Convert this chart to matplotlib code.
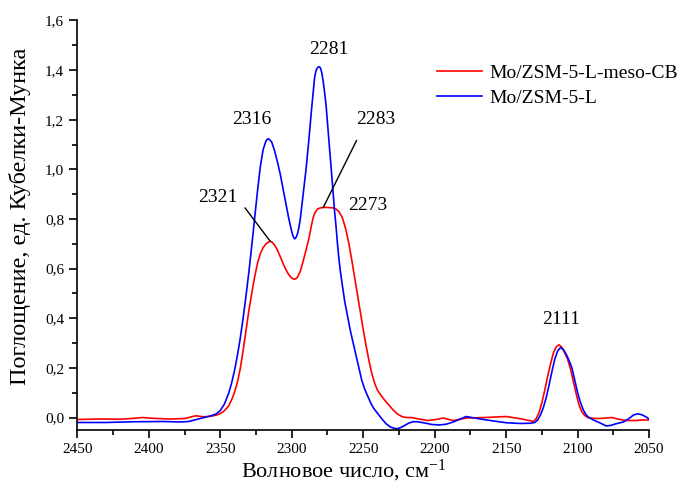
import matplotlib
matplotlib.use("Agg")
import matplotlib.pyplot as plt
from matplotlib.ticker import MultipleLocator, FuncFormatter

plt.rcParams['font.family'] = ['Liberation Serif', 'DejaVu Serif']
plt.rcParams['mathtext.fontset'] = 'custom'
plt.rcParams['mathtext.rm'] = 'Liberation Serif'
plt.rcParams['mathtext.it'] = 'Liberation Serif:italic'

# Mo/ZSM-5-L-meso-CB
w_red = [2450, 2435, 2420, 2410, 2404, 2398, 2385, 2375, 2370, 2367, 2362, 2358,
         2354, 2351, 2348, 2346, 2344, 2342, 2340, 2338, 2336, 2334, 2332, 2330,
         2328, 2326, 2324, 2322, 2320, 2318, 2316, 2315, 2314, 2312, 2310, 2308,
         2306, 2304, 2302, 2300, 2298, 2297, 2296, 2294, 2292, 2290, 2288, 2286,
         2285, 2284, 2282, 2280, 2277, 2274, 2271, 2269, 2267, 2265, 2264, 2262,
         2260, 2258, 2256, 2254, 2252, 2250, 2248, 2246, 2244, 2242, 2240, 2237,
         2235, 2232, 2229, 2226, 2223, 2220, 2216, 2212, 2205, 2199, 2194, 2190,
         2187, 2182, 2178, 2165, 2150, 2140, 2133, 2131, 2129, 2127, 2125, 2123,
         2121, 2119, 2117, 2115, 2113, 2111, 2109, 2107, 2105, 2103, 2101, 2099,
         2097, 2095, 2093, 2090, 2085, 2080, 2076, 2072, 2066, 2060, 2055, 2050]
a_red = [-0.008, -0.006, -0.007, -0.003, 0.0, -0.003, -0.006, -0.004, 0.003, 0.007,
         0.003, 0.004, 0.008, 0.013, 0.023, 0.034, 0.048, 0.072, 0.102, 0.142, 0.197,
         0.27, 0.35, 0.43, 0.50, 0.565, 0.62, 0.66, 0.685, 0.70, 0.708, 0.71, 0.708,
         0.695, 0.675, 0.648, 0.62, 0.595, 0.575, 0.562, 0.557, 0.56, 0.565, 0.59,
         0.63, 0.675, 0.72, 0.78, 0.805, 0.823, 0.84, 0.845, 0.847, 0.846, 0.845,
         0.84, 0.83, 0.81, 0.795, 0.755, 0.70, 0.635, 0.565, 0.495, 0.425, 0.355,
         0.29, 0.23, 0.178, 0.138, 0.11, 0.085, 0.07, 0.05, 0.03, 0.014, 0.004, 0.0,
         0.0, -0.005, -0.012, -0.008, -0.002, -0.008, -0.012, -0.007, -0.002, 0.0,
         0.004, -0.005, -0.013, -0.016, -0.005, 0.02, 0.06, 0.11, 0.165, 0.215,
         0.26, 0.285, 0.293, 0.283, 0.26, 0.235, 0.195, 0.145, 0.095, 0.05, 0.022,
         0.008, 0.0, -0.003, -0.004, -0.002, 0.0, -0.006, -0.012, -0.012, -0.01,
         -0.01]

# Mo/ZSM-5-L
w_blue = [2450, 2430, 2410, 2390, 2378, 2372, 2368, 2364, 2360, 2356, 2353, 2350,
          2347, 2344, 2342, 2340, 2338, 2336, 2334, 2332, 2330, 2328, 2326, 2324,
          2322, 2320, 2318, 2317, 2316, 2314, 2312, 2310, 2308, 2306, 2304, 2302,
          2300, 2299, 2298, 2297, 2296, 2295, 2294, 2292, 2290, 2289, 2288, 2286,
          2284, 2283, 2282, 2281, 2280, 2279, 2278, 2277, 2276, 2275, 2274, 2273,
          2272, 2271, 2270, 2269, 2268, 2267, 2266, 2265, 2263, 2261, 2259, 2257,
          2255, 2253, 2251, 2249, 2247, 2245, 2243, 2240, 2237, 2234, 2231, 2228,
          2226, 2224, 2221, 2218, 2215, 2212, 2207, 2202, 2197, 2192, 2187, 2182,
          2178, 2174, 2168, 2160, 2150, 2140, 2133, 2130, 2128, 2126, 2124, 2122,
          2120, 2118, 2116, 2114, 2112, 2110, 2108, 2106, 2104, 2102, 2100, 2098,
          2096, 2094, 2092, 2089, 2085, 2080, 2077, 2073, 2068, 2064, 2061, 2058,
          2055, 2052, 2050]
a_blue = [-0.02, -0.02, -0.017, -0.016, -0.018, -0.016, -0.01, -0.004, 0.002, 0.008,
          0.014, 0.028, 0.055, 0.10, 0.14, 0.19, 0.25, 0.32, 0.40, 0.49, 0.585, 0.69,
          0.80, 0.91, 1.01, 1.08, 1.115, 1.122, 1.123, 1.11, 1.075, 1.03, 0.98, 0.92,
          0.86, 0.80, 0.75, 0.73, 0.72, 0.725, 0.74, 0.765, 0.80, 0.90, 1.00, 1.06,
          1.12, 1.25, 1.37, 1.398, 1.41, 1.414, 1.41, 1.39, 1.355, 1.31, 1.26, 1.19,
          1.12, 1.05, 0.975, 0.90, 0.83, 0.77, 0.70, 0.64, 0.59, 0.55, 0.47, 0.41,
          0.35, 0.30, 0.25, 0.20, 0.15, 0.115, 0.088, 0.062, 0.04, 0.017, -0.005,
          -0.025, -0.038, -0.044, -0.045, -0.041, -0.032, -0.022, -0.017, -0.017,
          -0.022, -0.028, -0.03, -0.027, -0.018, -0.006, 0.004, 0.0, -0.006, -0.013,
          -0.021, -0.024, -0.023, -0.02, -0.01, 0.01, 0.04, 0.08, 0.13, 0.185, 0.235,
          0.268, 0.282, 0.274, 0.255, 0.23, 0.20, 0.15, 0.10, 0.06, 0.03, 0.01, 0.0,
          -0.01, -0.02, -0.034, -0.032, -0.025, -0.018, -0.004, 0.01, 0.015, 0.011,
          0.002, -0.006]

labels = ['Mo/ZSM-5-L-meso-CB', 'Mo/ZSM-5-L']

# peak labels: text, text position, leader line start, leader line end
peaks = [
    ('2281', (2274, 1.483), None, None),
    ('2316', (2327.8, 1.20), None, None),
    ('2283', (2241, 1.20), (2254.6, 1.117), (2278, 0.846)),
    ('2321', (2351.5, 0.886), (2332.7, 0.845), (2315, 0.71)),
    ('2273', (2246.7, 0.853), None, None),
    ('2111', (2111.5, 0.394), None, None),
]

fig = plt.figure(figsize=(6.84, 4.88), dpi=100)
ax = fig.add_axes([0.113, 0.119, 0.836, 0.839])

ax.plot(w_red, a_red, color='#ff0000', lw=1.2, label=labels[0])
ax.plot(w_blue, a_blue, color='#0000ff', lw=1.2, label=labels[1])

for txt, pos, p0, p1 in peaks:
    ax.text(pos[0], pos[1], txt, fontsize=14, ha='center', va='center')
    if p0 is not None:
        ax.annotate('', xy=p1, xytext=p0,
                    arrowprops=dict(arrowstyle='-', color='black', lw=1,
                                    shrinkA=0, shrinkB=0))

ax.set_xlim(2450, 2050)
ax.set_ylim(-0.05, 1.6)
ax.xaxis.set_major_locator(MultipleLocator(50))
ax.xaxis.set_minor_locator(MultipleLocator(25))
ax.yaxis.set_major_locator(MultipleLocator(0.2))
ax.yaxis.set_minor_locator(MultipleLocator(0.1))
ax.yaxis.set_major_formatter(FuncFormatter(lambda v, p: f'{v:.1f}'.replace('.', ',')))
ax.tick_params(which='major', direction='out', length=6, width=1.2, labelsize=11)
ax.tick_params(which='minor', direction='out', length=3.5, width=1.2)

for s in ['top', 'right']:
    ax.spines[s].set_visible(False)
for s in ['left', 'bottom']:
    ax.spines[s].set_linewidth(1.2)

ax.set_xlabel('Волновое число, см$^{-1}$', fontsize=16)
ax.set_ylabel('Поглощение, ед. Кубелки-Мунка', fontsize=17.5)
ax.xaxis.set_label_coords(0.466, -0.068)
ax.yaxis.set_label_coords(-0.081, 0.522)

ax.legend(loc='upper left', bbox_to_anchor=(0.629, 0.893), frameon=False,
          fontsize=14, handlelength=2.3, handletextpad=0.4, labelspacing=0.4,
          borderpad=0, borderaxespad=0)

fig.savefig('out.png', dpi=100)
